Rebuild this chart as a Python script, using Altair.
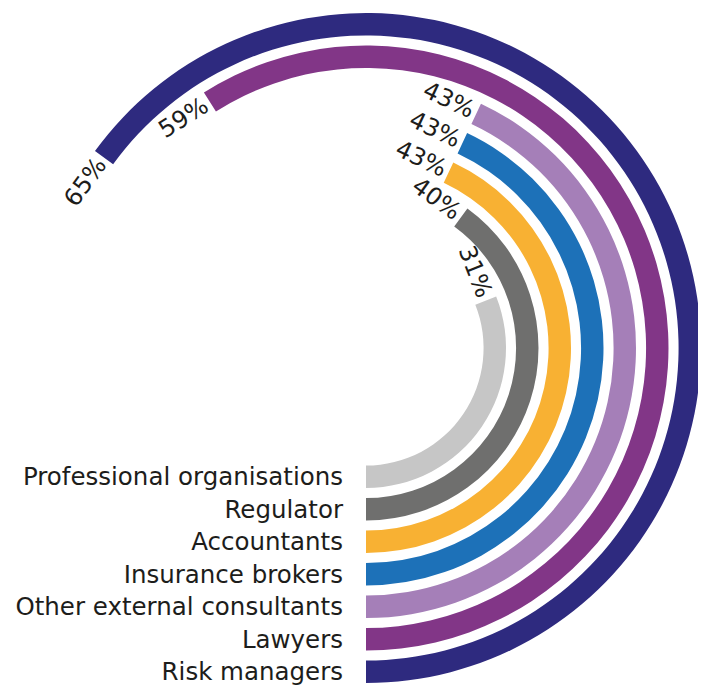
import altair as alt
import pandas as pd

categories = ["Professional organisations", "Regulator", "Accountants",
              "Insurance brokers", "Other external consultants", "Lawyers",
              "Risk managers"]
values = [31, 40, 43, 43, 43, 59, 65]
colors = ["#c6c6c6", "#6f6f6e", "#f8b133", "#1d71b8", "#a57fb8", "#823687", "#2e2a7f"]

# ring geometry (in rank units; one rank = one ring step)
THICK = 0.69
rows = []
for i, (c, v) in enumerate(zip(categories, values)):
    frac = v / 100.0
    theta_deg = 180 - frac * 360
    rows.append({
        "category": c,
        "value": v,
        "frac": frac,
        "zero": 0.0,
        "r_out": i,
        "r_in": i - THICK,
        "r_mid": i - THICK / 2,
        "r_lab": i - 0.08,
        "label": f"{v}%",
        "ang": theta_deg % 360,
    })
df = pd.DataFrame(rows)

theta_scale = alt.Scale(domain=[0, 1], range=[3.14159265, -3.14159265])
radius_scale = alt.Scale(type="linear", domain=[0, 6], range=[140, 335], zero=False)
color_scale = alt.Scale(domain=categories, range=colors)

CX, CY = 358, 340
FONT = "DejaVu Sans"

base = alt.Chart(df)

arcs = base.mark_arc(stroke=None).encode(
    x=alt.value(CX), y=alt.value(CY),
    theta=alt.Theta("zero:Q", scale=theta_scale, stack=None),
    theta2=alt.Theta2("frac"),
    radius=alt.Radius("r_out:Q", scale=radius_scale),
    radius2=alt.Radius2("r_in"),
    color=alt.Color("category:N", scale=color_scale, legend=None),
)

pct = base.mark_text(align="right", baseline="middle", dx=-4, font=FONT,
                     fontSize=24, color="#1d1d1b").encode(
    x=alt.value(CX), y=alt.value(CY),
    theta=alt.Theta("frac:Q", scale=theta_scale, stack=None),
    radius=alt.Radius("r_mid:Q", scale=radius_scale),
    angle=alt.Angle("ang:Q", scale=None),
    text="label:N",
)

cats = base.mark_text(align="right", baseline="alphabetic", dx=-23, font=FONT,
                      fontSize=24.5, color="#1d1d1b").encode(
    x=alt.value(CX), y=alt.value(CY),
    theta=alt.Theta("zero:Q", scale=theta_scale, stack=None),
    radius=alt.Radius("r_lab:Q", scale=radius_scale),
    text="category:N",
)

chart = alt.layer(arcs, pct, cats).properties(
    width=690, height=680, padding=0,
    autosize=alt.AutoSizeParams(type="none"),
).configure_view(stroke=None)

chart.save("out.html", embed_options={"renderer": "svg", "actions": False})
